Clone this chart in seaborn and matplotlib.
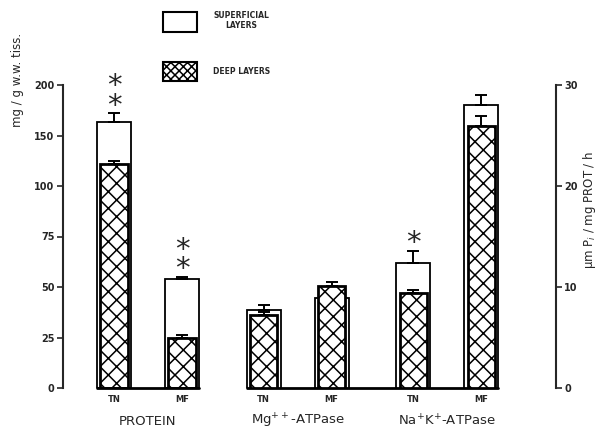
# %%
# import necessary libraries
import numpy as np
import pandas as pd
import seaborn as sns
import matplotlib.pyplot as plt
from matplotlib.patches import Patch

# %%
# values
sites = ["TN", "MF", "TN", "MF", "TN", "MF"]
group_names = ["PROTEIN", "Mg$^{++}$-ATPase", "Na$^{+}$K$^{+}$-ATPase"]
group_of_bar = [0, 0, 1, 1, 2, 2]

# protein, mg / g w.w. tiss. (left axis)
protein_sup = [163, 54]
protein_sup_se = [9, 1]
protein_deep = [122, 25]
protein_deep_se = [2.5, 1]

# ATPases, um Pi / mg PROT / h (right axis)
atp_sup = [7.7, 8.9, 12.4, 28.0]
atp_sup_se = [0.5, 0.0, 1.2, 1.0]
atp_deep = [7.2, 10.1, 9.4, 25.9]
atp_deep_se = [0.3, 0.4, 0.3, 1.0]

stars = ["**", "**", "", "", "*", ""]

left_ticks = [0, 25, 50, 75, 100, 150, 200]
right_ticks = [0, 10, 20, 30]

# %%
# layout
gap = 0.2
pos = [i + gap * g for i, g in enumerate(group_of_bar)]
w_sup, w_deep = 0.5, 0.4

sns.set_style("ticks")
plt.rcParams["hatch.linewidth"] = 1.1


# left axis is piecewise: 25 per step up to 100, then 50 per step
def fwd(v):
    v = np.asarray(v, dtype=float)
    return np.where(v <= 100, v / 25, 4 + (v - 100) / 50)


def inv(p):
    p = np.asarray(p, dtype=float)
    return np.where(p <= 4, p * 25, 100 + (p - 4) * 50)


fig = plt.figure(figsize=(6.08, 4.33), dpi=100)
ax = fig.add_axes([63 / 608, 1 - 388 / 433, 493 / 608, 303 / 433])
ax.set_yscale("function", functions=(fwd, inv))
ax2 = ax.twinx()

prot = pd.DataFrame({"pos": pos[:2], "sup": protein_sup, "deep": protein_deep})
atp = pd.DataFrame({"pos": pos[2:], "sup": atp_sup, "deep": atp_deep})

for a, d in [(ax, prot), (ax2, atp)]:
    sns.barplot(data=d, x="pos", y="sup", native_scale=True, width=w_sup,
                color="white", saturation=1, edgecolor="black", linewidth=1.3,
                orient="x", errorbar=None, ax=a, zorder=2)
    sns.barplot(data=d, x="pos", y="deep", native_scale=True, width=w_deep,
                color="white", saturation=1, edgecolor="black", linewidth=2,
                hatch="xx", orient="x", errorbar=None, ax=a, zorder=3)

# upper error bars only
sup_vals = protein_sup + atp_sup
sup_se = protein_sup_se + atp_sup_se
deep_vals = protein_deep + atp_deep
deep_se = protein_deep_se + atp_deep_se
for i in range(6):
    a = ax if i < 2 else ax2
    if sup_se[i] > 0:
        a.errorbar(pos[i], sup_vals[i], yerr=[[0], [sup_se[i]]], fmt="none",
                   ecolor="black", elinewidth=1.4, capsize=4.5, capthick=1.4, zorder=2.5)
    a.errorbar(pos[i], deep_vals[i], yerr=[[0], [deep_se[i]]], fmt="none",
               ecolor="black", elinewidth=1.4, capsize=4, capthick=1.4, zorder=4)
    if stars[i]:
        a.annotate("\n".join(stars[i]), (pos[i], sup_vals[i] + sup_se[i]),
                   xytext=(0, -4.5), textcoords="offset points", ha="center",
                   va="bottom", fontsize=21, linespacing=0.62, annotation_clip=False)

# baselines under each block of bars
ax.plot([pos[0] - w_sup / 2, pos[1] + w_sup / 2], [0, 0], color="black", lw=2,
        clip_on=False, zorder=5)
ax.plot([pos[2] - w_sup / 2, pos[5] + w_sup / 2], [0, 0], color="black", lw=2,
        clip_on=False, zorder=5)

# axes
ax.set_xlim(-0.75, 6.5)
ax.set_ylim(0, 200)
ax2.set_ylim(0, 30)
ax.set_xlabel("")
ax.set_ylabel("")
ax2.set_ylabel("")
ax.set_yticks(left_ticks, labels=[str(t) for t in left_ticks], fontsize=7, fontweight="bold")
ax2.set_yticks(right_ticks, labels=[str(t) for t in right_ticks], fontsize=7, fontweight="bold")
ax.set_xticks(pos, labels=sites, fontsize=6, fontweight="bold")
ax.tick_params(axis="x", length=0, pad=5)
ax.tick_params(axis="y", length=4, width=1.2, pad=2)
ax2.tick_params(axis="y", length=4, width=1.2, pad=2)
ax.minorticks_off()

for a in (ax, ax2):
    a.spines["top"].set_visible(False)
    a.spines["bottom"].set_visible(False)
ax.spines["right"].set_visible(False)
ax2.spines["left"].set_visible(False)
ax.spines["left"].set_bounds(0, 200)
ax2.spines["right"].set_bounds(0, 30)
ax.spines["left"].set_linewidth(1.5)
ax2.spines["right"].set_linewidth(1.5)

# group labels
for g, name in enumerate(group_names):
    xs = [p for p, gg in zip(pos, group_of_bar) if gg == g]
    ax.text(np.mean(xs), -0.11, name, transform=ax.get_xaxis_transform(),
            ha="center", va="center", fontsize=9.5)

ax.text(-0.093, 1.017, "mg / g w.w. tiss.", transform=ax.transAxes, rotation=90,
        ha="center", va="center", fontsize=8.5)
ax2.text(1.068, 0.587, "µm P$_i$ / mg PROT / h", transform=ax2.transAxes, rotation=90,
         ha="center", va="center", fontsize=8.5)

# legend at top
handles = [Patch(facecolor="white", edgecolor="black", linewidth=1.5),
           Patch(facecolor="white", edgecolor="black", linewidth=1.5, hatch="xxxx")]
leg = fig.legend(handles, ["SUPERFICIAL\nLAYERS", "DEEP LAYERS"], loc="upper left",
                 bbox_to_anchor=(163 / 608, 1 - 11 / 433), frameon=False,
                 prop={"size": 5.5, "weight": "bold"}, handlelength=4.4,
                 handleheight=3.5, labelspacing=4.0, handletextpad=2.2,
                 borderpad=0, borderaxespad=0)
for t in leg.get_texts():
    t.set_multialignment("center")

fig.savefig("out.png", dpi=100)
